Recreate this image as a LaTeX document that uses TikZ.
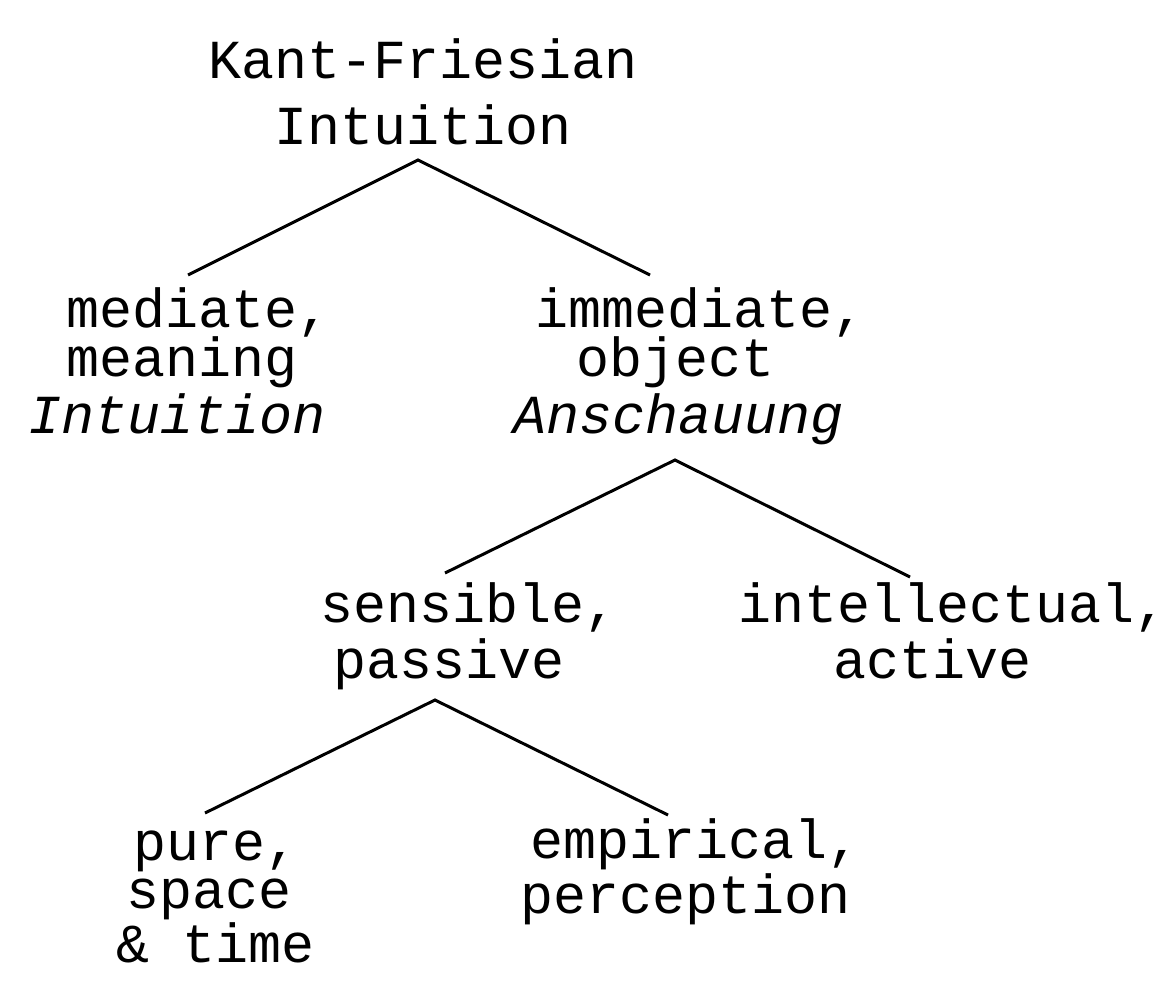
\documentclass[tikz,border=0pt]{standalone}
\usepackage{fontspec}
\setmainfont{Liberation Mono}
\begin{document}
\begin{tikzpicture}[x=1pt,y=-1pt,
  lbl/.style={anchor=base west,inner sep=0pt,font=\fontsize{55}{60}\selectfont},
  ilbl/.style={lbl,font=\fontsize{55}{60}\selectfont\itshape},
  edge/.style={line width=3pt,black}]
\useasboundingbox[fill=white] (0,0) rectangle (1170,1000);
% root
\node[lbl] (r1) at (208,79) {Kant-Friesian};
\node[lbl] (r2) at (274,145) {Intuition};
% mediate
\node[lbl] (m1) at (66,327) {mediate,};
\node[lbl] (m2) at (66,376) {meaning};
\node[ilbl] (m3) at (28,433) {Intuition};
% immediate
\node[lbl] (i1) at (535,327) {immediate,};
\node[lbl] (i2) at (576,376) {object};
\node[ilbl] (i3) at (513,433) {Anschauung};
% sensible
\node[lbl] (s1) at (320,622) {sensible,};
\node[lbl] (s2) at (333,678) {passive};
% intellectual
\node[lbl] (t1) at (738,622) {intellectual,};
\node[lbl] (t2) at (833,678) {active};
% pure
\node[lbl] (p1) at (133,860) {pure,};
\node[lbl] (p2) at (126,908) {space};
\node[lbl] (p3) at (116,962) {\&\ time};
% empirical
\node[lbl] (e1) at (530,858) {empirical,};
\node[lbl] (e2) at (520,913) {perception};
% connector ends
\coordinate (rT) at (418,160);
\coordinate (mT) at (188,275);
\coordinate (iT) at (650,275);
\coordinate (iB) at (675,460);
\coordinate (sT) at (445,573);
\coordinate (tT) at (910,577);
\coordinate (sB) at (435,700);
\coordinate (pT) at (205,813);
\coordinate (eT) at (668,815);
\draw[edge] (mT) -- (rT) -- (iT);
\draw[edge] (sT) -- (iB) -- (tT);
\draw[edge] (pT) -- (sB) -- (eT);
\end{tikzpicture}
\end{document}
